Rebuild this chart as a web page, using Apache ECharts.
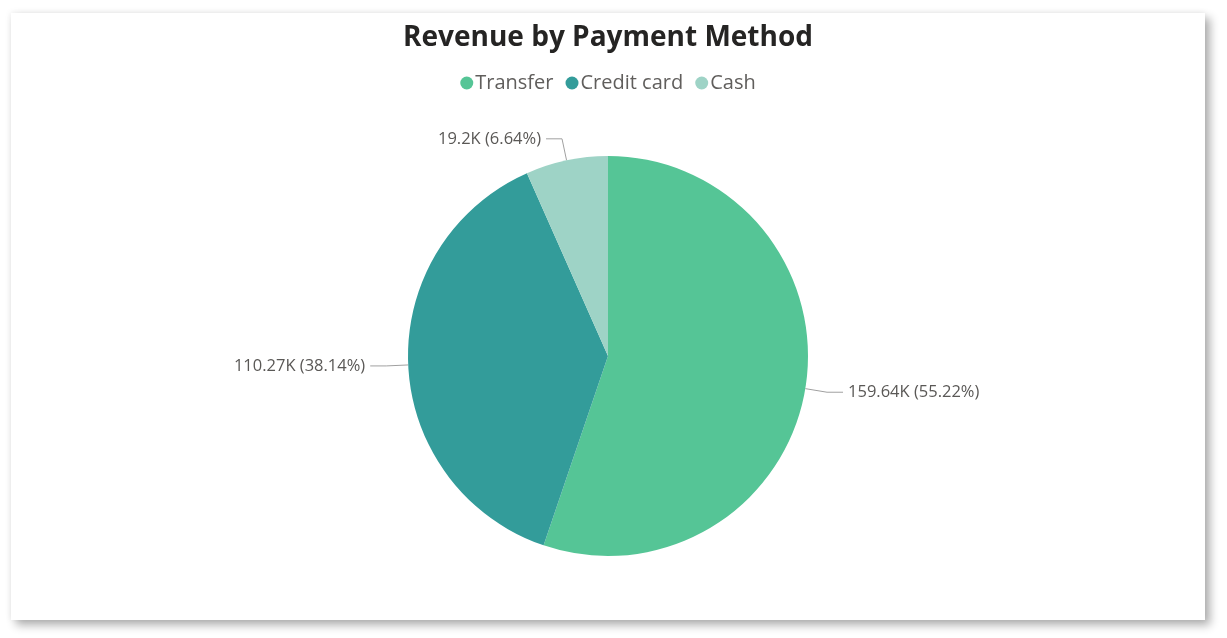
<!DOCTYPE html>
<html>
<head>
<meta charset="utf-8">
<script src="https://cdn.jsdelivr.net/npm/echarts@6/dist/echarts.min.js"></script>
<style>
html,body{margin:0;padding:0;background:#ffffff;width:1227px;height:638px;overflow:hidden;}
#card{position:absolute;left:11px;top:13px;width:1194px;height:607px;background:#fff;
box-shadow:5px 5px 9px rgba(0,0,0,0.32), -1px -1px 6px rgba(0,0,0,0.06);}
#chart{position:absolute;left:11px;top:13px;width:1194px;height:607px;}
</style>
</head>
<body>
<div id="card"></div>
<div id="chart"></div>
<script>
const categories = ["Transfer", "Credit card", "Cash"];
const values = [159640, 110270, 19200];
const valueLabels = ["159.64K", "110.27K", "19.2K"];
const colors = ["#55C596", "#339C9A", "#9ED3C6"];

const chart = echarts.init(document.getElementById('chart'), null, {renderer: 'canvas'});
const fontFam = '"Open Sans", "Noto Sans", sans-serif';
chart.setOption({
  animation: false,
  title: {
    text: 'Revenue by Payment Method',
    left: 'center',
    top: 6,
    textStyle: {fontFamily: fontFam, fontSize: 28, fontWeight: 'bold', color: '#252423'}
  },
  legend: {
    data: categories,
    top: 55,
    left: 'center',
    icon: 'circle',
    itemWidth: 13,
    itemHeight: 13,
    itemGap: 12,
    textStyle: {fontFamily: fontFam, fontSize: 20, color: '#605E5C', padding: [0,0,0,-3]}
  },
  series: [{
    type: 'pie',
    center: [597, 343],
    radius: [0, 200],
    startAngle: 90,
    clockwise: true,
    data: categories.map((c, i) => ({name: c, value: values[i], itemStyle: {color: colors[i]}})),
    label: {
      show: true,
      fontFamily: fontFam,
      fontSize: 16.5,
      color: '#5A5856',
      formatter: p => valueLabels[p.dataIndex] + ' (' + p.percent.toFixed(2) + '%)'
    },
    percentPrecision: 2,
    labelLine: {show: true, length: 22, length2: 16, lineStyle: {color: '#A0A0A0', width: 1}},
    emphasis: {disabled: true}
  }]
});
</script>
</body>
</html>
